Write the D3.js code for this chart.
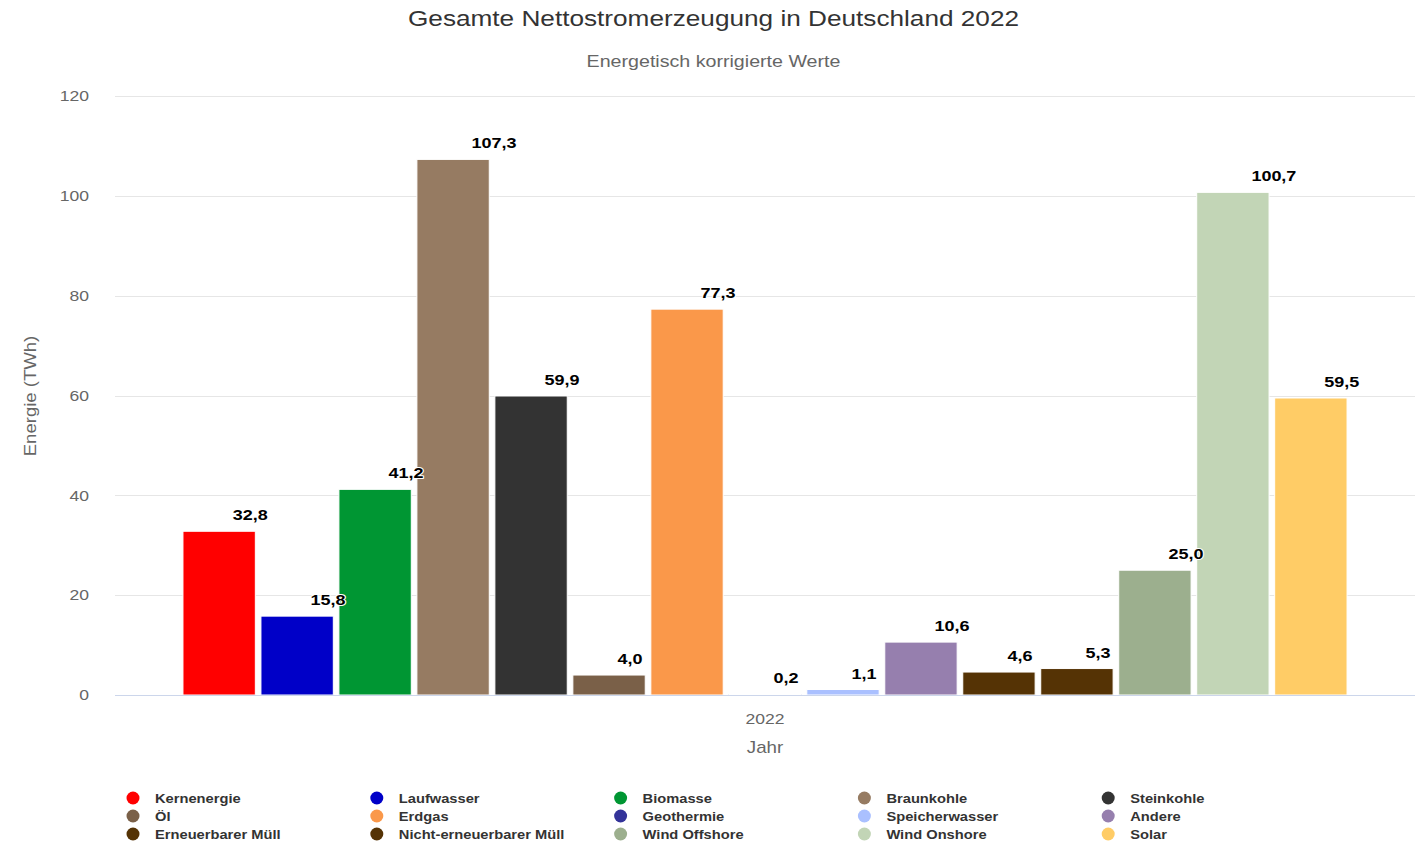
<!DOCTYPE html>
<html><head><meta charset="utf-8">
<script src="https://cdn.jsdelivr.net/npm/d3@7"></script>
<style>
body{margin:0;background:#fff;font-family:"Liberation Sans",Arial,Helvetica,sans-serif;}
svg text{font-family:"Liberation Sans",Arial,Helvetica,sans-serif;}
</style></head><body>
<svg id="c" width="1422" height="843"></svg>
<script>
const categories = ["2022"];
const seriesNames = ["Kernenergie","Laufwasser","Biomasse","Braunkohle","Steinkohle","Öl","Erdgas","Geothermie","Speicherwasser","Andere","Erneuerbarer Müll","Nicht-erneuerbarer Müll","Wind Offshore","Wind Onshore","Solar"];
const seriesValues = [32.8,15.8,41.2,107.3,59.9,4.0,77.3,0.2,1.1,10.6,4.6,5.3,25.0,100.7,59.5];
const seriesColors = ["#ff0000","#0000c8","#009633","#967b62","#333333","#7a6048","#fa984a","#333399","#aac0ff","#967fae","#553305","#553305","#9caf8e","#c2d5b6","#ffcc66"];
const yTicks = [0,20,40,60,80,100,120];

const svg = d3.select("#c");
const L = 115, R = 1415, T = 96, B = 695;

// text helper with horizontal stretch (reference glyphs are wider)
function txt(parent, x, y, str, opt){
  const g = parent.append("g").attr("transform",`translate(${x},${y}) rotate(${opt.rot||0}) scale(${opt.sx||1},1)`);
  const t = g.append("text").attr("x",0).attr("y",0)
    .attr("text-anchor",opt.anchor||"start")
    .attr("fill",opt.fill||"#333")
    .style("font-size",opt.size+"px")
    .style("font-weight",opt.bold?"bold":"normal")
    .text(str);
  return {g,t};
}

const y = d3.scaleLinear().domain([0,120]).range([B,T]);
const x0 = d3.scaleBand().domain(categories).range([L,R]).paddingOuter(0.0557).paddingInner(0);
const x1 = d3.scaleBand().domain(seriesNames).range([0,x0.bandwidth()]).paddingInner(0.072).paddingOuter(0.036);

// gridlines
svg.append("g").selectAll("line").data(yTicks.filter(d=>d>0)).join("line")
  .attr("x1",L).attr("x2",R).attr("y1",d=>Math.round(y(d))+0.5).attr("y2",d=>Math.round(y(d))+0.5)
  .attr("stroke","#e6e6e6").attr("stroke-width",1);

// y axis tick labels (positions from d3 axis scale)
const yAxis = d3.axisLeft(y).tickValues(yTicks).tickSize(0).tickPadding(0);
const ga = svg.append("g").attr("transform",`translate(${L-26},0)`).call(yAxis);
ga.select(".domain").remove();
ga.selectAll(".tick text").attr("fill","#666").style("font-size","15px")
  .attr("transform","scale(1.17,1)");

// bars
const cat = categories[0];
const gb = svg.append("g");
seriesNames.forEach((s,i)=>{
  const v = seriesValues[i];
  gb.append("rect")
    .attr("x", x0(cat)+x1(s))
    .attr("y", y(v))
    .attr("width", x1.bandwidth())
    .attr("height", Math.max(0,y(0)-y(v)))
    .attr("fill", seriesColors[i])
    .attr("stroke","#fff").attr("stroke-width",1);
});

// baseline
svg.append("line").attr("x1",L).attr("x2",R).attr("y1",Math.round(y(0))+0.5).attr("y2",Math.round(y(0))+0.5)
  .attr("stroke","#ccd6eb").attr("stroke-width",1);

// value labels
const fmt = v => d3.format(".1f")(v).replace(".",",");
const vsx = 1.2;
seriesNames.forEach((s,i)=>{
  const v = seriesValues[i];
  const cx = x0(cat)+x1(s)+x1.bandwidth()/2;
  const o = txt(svg, 0, y(v)-11, fmt(v), {size:15, bold:true, fill:"#000", sx:vsx});
  o.t.attr("stroke","#fff").attr("stroke-width",2).attr("paint-order","stroke").attr("stroke-linejoin","round");
  const w = o.t.node().getComputedTextLength()*vsx;
  o.g.attr("transform",`translate(${cx + w/2 - 4},${y(v)-11}) scale(${vsx},1)`);
});

// axis titles
txt(svg, x0(cat)+x0.bandwidth()/2, 724, cat, {size:15, anchor:"middle", fill:"#666", sx:1.17});
txt(svg, 765, 753, "Jahr", {size:16, anchor:"middle", fill:"#666", sx:1.17});
txt(svg, 36, 396, "Energie (TWh)", {size:16, anchor:"middle", fill:"#666", sx:1.16, rot:-90});

// titles
txt(svg, 713.5, 26, "Gesamte Nettostromerzeugung in Deutschland 2022", {size:22, anchor:"middle", fill:"#333", sx:1.19});
txt(svg, 713.5, 67, "Energetisch korrigierte Werte", {size:16.5, anchor:"middle", fill:"#666", sx:1.19});

// legend
const lg = svg.append("g");
seriesNames.forEach((s,i)=>{
  const col = i%5, row = Math.floor(i/5);
  const lx = 133 + col*243.8, ly = 798 + row*18;
  lg.append("circle").attr("cx",lx).attr("cy",ly).attr("r",6.5).attr("fill",seriesColors[i]);
  txt(lg, lx+22, ly+4.5, s, {size:13, bold:true, fill:"#333", sx:1.13});
});
</script>
</body></html>
